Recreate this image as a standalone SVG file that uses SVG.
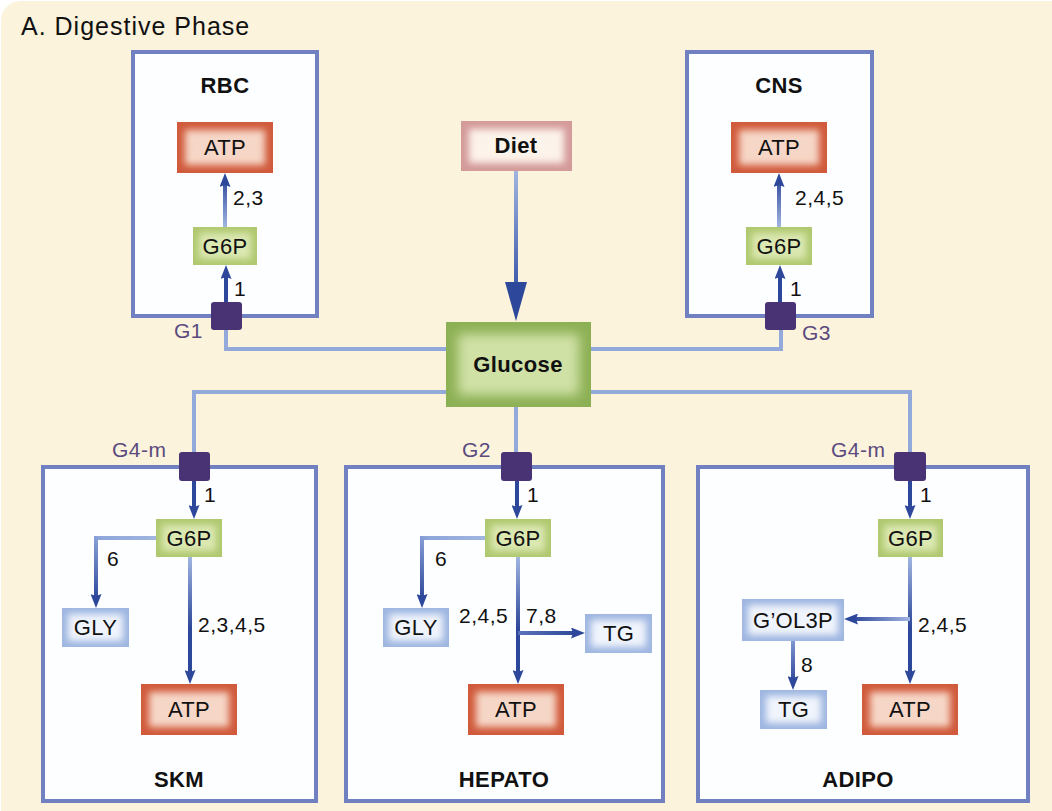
<svg xmlns="http://www.w3.org/2000/svg" width="1052" height="811" viewBox="0 0 1052 811">
<defs>
<style>
.t{font-family:"Liberation Sans",Arial,sans-serif;fill:#111;}
.bx{font-size:22px;text-anchor:middle;letter-spacing:0.3px;}
.bd{font-size:22px;font-weight:bold;text-anchor:middle;letter-spacing:0.4px;}
.lb{font-size:21px;letter-spacing:0.5px;}
.tl{font-size:21px;fill:#5A4A7E;letter-spacing:0.5px;}
.cell{fill:#FDFEFF;stroke:#7080C0;stroke-width:4;}
.tr{fill:#4A3374;}
.feed{fill:none;stroke:#93A9DA;stroke-width:4;}
.dk{fill:none;stroke:#2D479B;stroke-width:4;}
.atpO{fill:#D05A3B;} .atpI{fill:#F6D6C6;}
.g6O{fill:#AFC86E;} .g6I{fill:#DCE8B2;}
.bluO{fill:#9DB5E0;} .bluI{fill:#F0F4FC;}
.gluO{fill:#8CB054;} .gluI{fill:#D0E1A6;}
.dieO{fill:#D49A9A;} .dieI{fill:#FCF3EA;}
</style>
<filter id="glow" x="-20%" y="-40%" width="140%" height="180%"><feGaussianBlur stdDeviation="3.5"/></filter>
<filter id="glow2" x="-20%" y="-40%" width="140%" height="180%"><feGaussianBlur stdDeviation="6"/></filter>
<marker id="ah" markerUnits="userSpaceOnUse" viewBox="0 0 14 11" markerWidth="14" markerHeight="11" refX="6" refY="5.5" orient="auto">
<path d="M0,0 L14,5.5 L0,11 L2,5.5 z" fill="#2D479B"/>
</marker>
<linearGradient id="gUpR" gradientUnits="userSpaceOnUse" x1="0" y1="227" x2="0" y2="178"><stop offset="0" stop-color="#A0B5E0"/><stop offset="1" stop-color="#2D479B"/></linearGradient>
<linearGradient id="gDown" gradientUnits="userSpaceOnUse" x1="0" y1="557" x2="0" y2="676"><stop offset="0" stop-color="#A0B5E0"/><stop offset="0.6" stop-color="#2D479B"/><stop offset="1" stop-color="#2D479B"/></linearGradient>
<linearGradient id="gSkmGly" gradientUnits="userSpaceOnUse" x1="156" y1="538" x2="96" y2="600"><stop offset="0" stop-color="#A0B5E0"/><stop offset="0.45" stop-color="#8EA6DA"/><stop offset="1" stop-color="#2D479B"/></linearGradient>
<linearGradient id="gHepGly" gradientUnits="userSpaceOnUse" x1="485" y1="538" x2="422" y2="600"><stop offset="0" stop-color="#A0B5E0"/><stop offset="0.45" stop-color="#8EA6DA"/><stop offset="1" stop-color="#2D479B"/></linearGradient>
<linearGradient id="gHepTg" gradientUnits="userSpaceOnUse" x1="518" y1="0" x2="577" y2="0"><stop offset="0" stop-color="#5A72BA"/><stop offset="1" stop-color="#2D479B"/></linearGradient>
<linearGradient id="gAdiGol" gradientUnits="userSpaceOnUse" x1="910" y1="0" x2="852" y2="0"><stop offset="0" stop-color="#A0B5E0"/><stop offset="1" stop-color="#2D479B"/></linearGradient>
<linearGradient id="gAdiTg" gradientUnits="userSpaceOnUse" x1="0" y1="641" x2="0" y2="682"><stop offset="0" stop-color="#7E96D0"/><stop offset="1" stop-color="#2D479B"/></linearGradient>
<linearGradient id="gDiet" gradientUnits="userSpaceOnUse" x1="0" y1="171" x2="0" y2="290"><stop offset="0" stop-color="#A0B5E0"/><stop offset="1" stop-color="#3A56A8"/></linearGradient>
</defs>

<rect x="1" y="1" width="1070" height="830" rx="20" fill="#FBF3DC"/>
<text class="t" x="21" y="35" font-size="25" letter-spacing="1">A. Digestive Phase</text>

<!-- cell compartments -->
<g id="rbc"><rect class="cell" x="133" y="52" width="184" height="264"/><text class="t bd" x="225" y="93">RBC</text></g>
<g id="cns"><rect class="cell" x="687" y="52" width="185" height="264"/><text class="t bd" x="779" y="93">CNS</text></g>
<g id="skm"><rect class="cell" x="43" y="467" width="273" height="334"/><text class="t bd" x="179" y="787">SKM</text></g>
<g id="hepato"><rect class="cell" x="346" y="467" width="317" height="334"/><text class="t bd" x="504" y="787">HEPATO</text></g>
<g id="adipo"><rect class="cell" x="698" y="467" width="330" height="334"/><text class="t bd" x="858" y="787">ADIPO</text></g>

<!-- connectors -->
<g id="connectors">
<path class="feed" d="M446,349 L226,349 L226,330"/>
<path class="feed" d="M591,349 L781,349 L781,330"/>
<path class="feed" d="M446,392 L194,392 L194,452"/>
<path class="feed" d="M591,392 L910,392 L910,452"/>
<path class="feed" d="M516,407 L516,452"/>
<path d="M516,171 L516,286" fill="none" stroke="url(#gDiet)" stroke-width="4"/>
<polygon points="505,282 527,282 516,321" fill="#2D479B"/>
<!-- RBC -->
<path class="dk" d="M226,302 L226,273" marker-end="url(#ah)"/>
<path d="M225,227 L225,181" fill="none" stroke="url(#gUpR)" stroke-width="4" marker-end="url(#ah)"/>
<!-- CNS -->
<path class="dk" d="M780,302 L780,273" marker-end="url(#ah)"/>
<path d="M779,227 L779,181" fill="none" stroke="url(#gUpR)" stroke-width="4" marker-end="url(#ah)"/>
<!-- SKM -->
<path class="dk" d="M194,481 L194,511" marker-end="url(#ah)"/>
<path d="M156,538 L96,538 L96,600" fill="none" stroke="url(#gSkmGly)" stroke-width="4" marker-end="url(#ah)"/>
<path d="M190,557 L190,676" fill="none" stroke="url(#gDown)" stroke-width="4" marker-end="url(#ah)"/>
<!-- HEPATO -->
<path class="dk" d="M517,481 L517,511" marker-end="url(#ah)"/>
<path d="M485,538 L422,538 L422,600" fill="none" stroke="url(#gHepGly)" stroke-width="4" marker-end="url(#ah)"/>
<path d="M518,557 L518,676" fill="none" stroke="url(#gDown)" stroke-width="4" marker-end="url(#ah)"/>
<path d="M518,633 L577,633" fill="none" stroke="url(#gHepTg)" stroke-width="4" marker-end="url(#ah)"/>
<!-- ADIPO -->
<path class="dk" d="M910,481 L910,511" marker-end="url(#ah)"/>
<path d="M910,557 L910,676" fill="none" stroke="url(#gDown)" stroke-width="4" marker-end="url(#ah)"/>
<path d="M910,619 L852,619" fill="none" stroke="url(#gAdiGol)" stroke-width="4" marker-end="url(#ah)"/>
<path d="M793,641 L793,682" fill="none" stroke="url(#gAdiTg)" stroke-width="4" marker-end="url(#ah)"/>
</g>

<!-- connector labels -->
<g id="labels" class="t lb">
<text x="234" y="296">1</text>
<text x="233" y="205">2,3</text>
<text x="790" y="296">1</text>
<text x="795" y="205">2,4,5</text>
<text x="204" y="502">1</text>
<text x="107" y="566">6</text>
<text x="198" y="632">2,3,4,5</text>
<text x="527" y="502">1</text>
<text x="435" y="566">6</text>
<text x="459" y="623">2,4,5</text>
<text x="526" y="623">7,8</text>
<text x="920" y="502">1</text>
<text x="918" y="632">2,4,5</text>
<text x="801" y="672">8</text>
</g>

<!-- transporters -->
<g id="t-g1"><rect class="tr" x="211" y="302" width="31" height="28" rx="3"/><text class="t tl" x="174" y="338">G1</text></g>
<g id="t-g3"><rect class="tr" x="765" y="302" width="31" height="28" rx="3"/><text class="t tl" x="802" y="340">G3</text></g>
<g id="t-g4m-skm"><rect class="tr" x="179" y="452" width="31" height="29" rx="3"/><text class="t tl" x="112" y="457">G4-m</text></g>
<g id="t-g2"><rect class="tr" x="501" y="452" width="31" height="29" rx="3"/><text class="t tl" x="462" y="457">G2</text></g>
<g id="t-g4m-adipo"><rect class="tr" x="894" y="452" width="32" height="29" rx="3"/><text class="t tl" x="831" y="457">G4-m</text></g>

<!-- nodes -->
<g id="diet"><rect class="dieO" x="461" y="121" width="111" height="50"/><rect class="dieI" x="469" y="129" width="95" height="34" filter="url(#glow)"/><text class="t bd" x="516" y="153">Diet</text></g>
<g id="glucose"><rect class="gluO" x="446" y="322" width="145" height="85"/><rect class="gluI" x="458" y="334" width="121" height="61" filter="url(#glow2)"/><text class="t bd" x="518" y="372">Glucose</text></g>

<g id="rbc-atp"><rect class="atpO" x="177" y="122" width="96" height="51"/><rect class="atpI" x="185" y="130" width="80" height="35" filter="url(#glow)"/><text class="t bx" x="225" y="155">ATP</text></g>
<g id="rbc-g6p"><rect class="g6O" x="193" y="227" width="64" height="38"/><rect class="g6I" x="199" y="233" width="52" height="26" filter="url(#glow)"/><text class="t bx" x="225" y="254">G6P</text></g>

<g id="cns-atp"><rect class="atpO" x="731" y="122" width="96" height="51"/><rect class="atpI" x="739" y="130" width="80" height="35" filter="url(#glow)"/><text class="t bx" x="779" y="155">ATP</text></g>
<g id="cns-g6p"><rect class="g6O" x="746" y="227" width="66" height="38"/><rect class="g6I" x="752" y="233" width="54" height="26" filter="url(#glow)"/><text class="t bx" x="779" y="254">G6P</text></g>

<g id="skm-g6p"><rect class="g6O" x="156" y="519" width="66" height="38"/><rect class="g6I" x="162" y="525" width="54" height="26" filter="url(#glow)"/><text class="t bx" x="189" y="546">G6P</text></g>
<g id="skm-gly"><rect class="bluO" x="62" y="608" width="67" height="39"/><rect class="bluI" x="68" y="614" width="55" height="27" filter="url(#glow)"/><text class="t bx" x="95.500" y="635">GLY</text></g>
<g id="skm-atp"><rect class="atpO" x="141" y="684" width="96" height="51"/><rect class="atpI" x="149" y="692" width="80" height="35" filter="url(#glow)"/><text class="t bx" x="189" y="717">ATP</text></g>

<g id="hep-g6p"><rect class="g6O" x="485" y="519" width="66" height="38"/><rect class="g6I" x="491" y="525" width="54" height="26" filter="url(#glow)"/><text class="t bx" x="518" y="546">G6P</text></g>
<g id="hep-gly"><rect class="bluO" x="383" y="608" width="66" height="39"/><rect class="bluI" x="389" y="614" width="54" height="27" filter="url(#glow)"/><text class="t bx" x="416" y="635">GLY</text></g>
<g id="hep-tg"><rect class="bluO" x="585" y="614" width="67" height="39"/><rect class="bluI" x="591" y="620" width="55" height="27" filter="url(#glow)"/><text class="t bx" x="618.500" y="641">TG</text></g>
<g id="hep-atp"><rect class="atpO" x="468" y="684" width="96" height="51"/><rect class="atpI" x="476" y="692" width="80" height="35" filter="url(#glow)"/><text class="t bx" x="516" y="717">ATP</text></g>

<g id="adi-g6p"><rect class="g6O" x="878" y="519" width="65" height="38"/><rect class="g6I" x="884" y="525" width="53" height="26" filter="url(#glow)"/><text class="t bx" x="910.500" y="546">G6P</text></g>
<g id="adi-gol3p"><rect class="bluO" x="742" y="599" width="102" height="42"/><rect class="bluI" x="748" y="605" width="90" height="30" filter="url(#glow)"/><text class="t bx" x="793" y="628">G’OL3P</text></g>
<g id="adi-tg"><rect class="bluO" x="760" y="690" width="67" height="39"/><rect class="bluI" x="766" y="696" width="55" height="27" filter="url(#glow)"/><text class="t bx" x="793.500" y="717">TG</text></g>
<g id="adi-atp"><rect class="atpO" x="862" y="684" width="96" height="51"/><rect class="atpI" x="870" y="692" width="80" height="35" filter="url(#glow)"/><text class="t bx" x="910" y="717">ATP</text></g>
</svg>
